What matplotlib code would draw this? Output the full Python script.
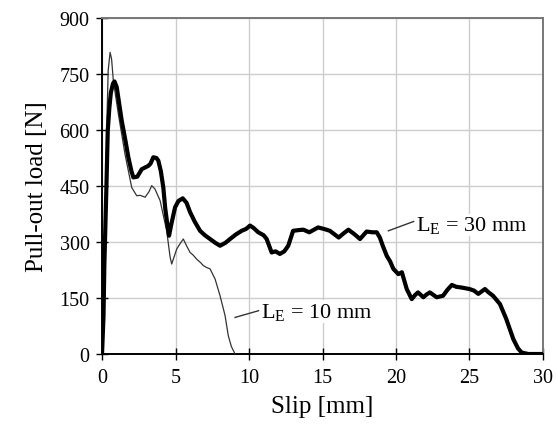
import matplotlib
matplotlib.use("Agg")
import matplotlib.pyplot as plt

plt.rcParams["font.family"] = ["Liberation Serif", "DejaVu Serif"]
plt.rcParams["mathtext.fontset"] = "custom"
plt.rcParams["mathtext.rm"] = "Liberation Serif"
plt.rcParams["mathtext.it"] = "Liberation Serif:italic"

# curva L_E = 30 mm (linha grossa)
slip_30 = [0, 0.1, 0.16, 0.3, 0.39, 0.5, 0.6, 0.75, 0.85, 1.0,
           1.34, 1.6, 1.79, 2.0, 2.13, 2.4, 2.7, 3.15, 3.3, 3.49,
           3.7, 3.83, 4.0, 4.17, 4.3, 4.47, 4.56, 4.7, 4.97, 5.2,
           5.49, 5.75, 5.99, 6.3, 6.67, 7.0, 7.35, 7.7, 8.03, 8.4,
           8.71, 9.1, 9.5, 9.8, 10.07, 10.3, 10.63, 11.0, 11.2, 11.54,
           11.8, 12.1, 12.4, 12.67, 13.0, 13.4, 13.7, 14.1, 14.7, 15.1,
           15.5, 16.1, 16.4, 16.76, 17.2, 17.55, 18.0, 18.4, 18.69, 18.9,
           19.1, 19.37, 19.6, 19.82, 20.16, 20.4, 20.73, 21.07, 21.3, 21.5,
           21.86, 22.1, 22.3, 22.77, 23.2, 23.5, 23.8, 24.1, 24.47, 25.0,
           25.3, 25.6, 26.05, 26.3, 26.6, 27.07, 27.5, 27.98, 28.3, 28.55,
           29, 30]
load_30 = [0, 100, 241, 450, 598, 660, 700, 725, 730, 715,
           625, 570, 527, 490, 473, 475, 495, 504, 510, 527,
           525, 518, 490, 446, 390, 339, 317, 345, 393, 410,
           417, 405, 380, 355, 330, 318, 308, 298, 290, 298,
           308, 320, 330, 335, 344, 338, 326, 318, 308, 272,
           275, 268, 275, 290, 330, 332, 333, 326, 339, 335,
           330, 312, 322, 333, 320, 308, 328, 326, 326, 312,
           290, 263, 248, 228, 214, 219, 174, 147, 158, 165,
           152, 160, 165, 152, 156, 172, 185, 180, 178, 174,
           170, 161, 174, 165, 156, 134, 94, 40, 15, 4,
           0, 0]

# curva L_E = 10 mm (linha fina)
slip_10 = [0, 0.1, 0.2, 0.32, 0.42, 0.55, 0.65, 0.77, 1.11, 1.56,
           2.02, 2.36, 2.6, 2.93, 3.2, 3.38, 3.6, 3.95, 4.4, 4.63,
           4.74, 5.08, 5.3, 5.53, 5.75, 5.99, 6.2, 6.44, 6.7, 6.89,
           7.1, 7.35, 7.69, 8.03, 8.37, 8.59, 8.8, 9.05]
load_10 = [0, 80, 300, 608, 760, 808, 790, 732, 643, 536,
           446, 424, 425, 420, 435, 451, 442, 411, 330, 260,
           241, 281, 295, 308, 290, 272, 265, 254, 245, 237,
           232, 228, 201, 156, 103, 49, 20, 0]

x_ticks = [0, 5, 10, 15, 20, 25, 30]
y_ticks = [0, 150, 300, 450, 600, 750, 900]

fig = plt.figure(figsize=(5.56, 4.27), dpi=100)
ax = fig.add_axes([0.1835, 0.1686, 0.7931, 0.7869])

ax.plot(slip_10, load_10, color="#333333", linewidth=0.9, zorder=3)
ax.plot(slip_30, load_30, color="black", linewidth=3.0, zorder=4,
        solid_joinstyle="round")

ax.set_xlim(0, 30)
ax.set_ylim(0, 900)
ax.set_xticks(x_ticks)
ax.set_yticks(y_ticks)
ax.grid(True, color="#cccccc", linewidth=1.0, zorder=0)
ax.set_axisbelow(True)

ax.tick_params(direction="inout", length=8, width=1, labelsize=14.5,
               colors="black")
ax.tick_params(axis="y", pad=5)
ax.tick_params(axis="x", pad=6)
for side in ("left", "bottom"):
    ax.spines[side].set_linewidth(1.4)
    ax.spines[side].set_color("black")
for side in ("top", "right"):
    ax.spines[side].set_linewidth(1.4)
    ax.spines[side].set_color("#777777")

ax.set_xlabel("Slip [mm]", fontsize=18, labelpad=6)
ax.set_ylabel("Pull-out load [N]", fontsize=18, labelpad=8)

# rótulos das curvas com linha de chamada
ax.plot([19.48, 21.2], [330, 355], color="#333333", linewidth=1.0, zorder=5)
ax.text(21.35, 346, r"L$_\mathrm{E}$ = 30 mm", fontsize=16, va="center",
        ha="left", zorder=6,
        bbox=dict(facecolor="white", edgecolor="none", pad=0.5))
ax.plot([9.05, 10.65], [98, 116], color="#333333", linewidth=1.0, zorder=5)
ax.text(10.8, 114, r"L$_\mathrm{E}$ = 10 mm", fontsize=16, va="center",
        ha="left", zorder=6,
        bbox=dict(facecolor="white", edgecolor="none", pad=0.5))

fig.savefig("out.png", dpi=100)
